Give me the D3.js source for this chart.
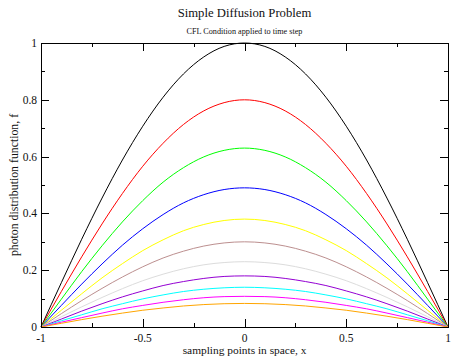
<!DOCTYPE html>
<meta charset="utf-8">
<style>
body { margin: 0; background: #fff; }
text { font-family: "Liberation Serif", "DejaVu Serif", serif; fill: #111; }
</style>
<body>
<script src="https://d3js.org/d3.v7.min.js"></script>
<script>
var width = 451, height = 362;
var margin = {left: 41, right: 3, top: 43, bottom: 35};

// sampling points
var xs = [-1, -0.9, -0.8, -0.7, -0.6, -0.5, -0.4, -0.3, -0.2, -0.1, 0,
          0.1, 0.2, 0.3, 0.4, 0.5, 0.6, 0.7, 0.8, 0.9, 1];

// one curve per time step
var step0  = [0, .156, .309, .454, .588, .707, .809, .891, .951, .988, 1, .988, .951, .891, .809, .707, .588, .454, .309, .156, 0];
var step1  = [0, .125, .247, .363, .470, .566, .647, .713, .761, .790, .80, .790, .761, .713, .647, .566, .470, .363, .247, .125, 0];
var step2  = [0, .098, .195, .286, .370, .445, .510, .561, .599, .622, .63, .622, .599, .561, .510, .445, .370, .286, .195, .098, 0];
var step3  = [0, .076, .151, .222, .288, .346, .396, .437, .466, .484, .49, .484, .466, .437, .396, .346, .288, .222, .151, .076, 0];
var step4  = [0, .059, .117, .173, .223, .269, .307, .339, .361, .375, .38, .375, .361, .339, .307, .269, .223, .173, .117, .059, 0];
var step5  = [0, .047, .093, .136, .176, .212, .243, .267, .285, .296, .30, .296, .285, .267, .243, .212, .176, .136, .093, .047, 0];
var step6  = [0, .036, .071, .104, .135, .163, .186, .205, .219, .227, .23, .227, .219, .205, .186, .163, .135, .104, .071, .036, 0];
var step7  = [0, .028, .056, .082, .106, .127, .146, .160, .171, .178, .18, .178, .171, .160, .146, .127, .106, .082, .056, .028, 0];
var step8  = [0, .022, .043, .064, .082, .099, .113, .125, .133, .138, .14, .138, .133, .125, .113, .099, .082, .064, .043, .022, 0];
var step9  = [0, .017, .033, .049, .064, .076, .087, .096, .103, .107, .108, .107, .103, .096, .087, .076, .064, .049, .033, .017, 0];
var step10 = [0, .013, .026, .038, .049, .059, .067, .074, .079, .082, .083, .082, .079, .074, .067, .059, .049, .038, .026, .013, 0];

var series = [step0, step1, step2, step3, step4, step5, step6, step7, step8, step9, step10];
var colors = ["#000000", "#ff0000", "#00ff00", "#0000ff", "#ffff00", "#bc8f8f",
              "#dcdcdc", "#9400d3", "#00ffff", "#ff00ff", "#ffa500"];

var xTicks = [-1, -0.5, 0, 0.5, 1];
var xMinor = [-0.75, -0.25, 0.25, 0.75];
var yTicks = [0, 0.2, 0.4, 0.6, 0.8, 1];
var yMinor = [0.1, 0.3, 0.5, 0.7, 0.9];

var svg = d3.select("body").append("svg")
    .attr("width", width).attr("height", height);

var x = d3.scaleLinear().domain([-1, 1]).range([margin.left, width - margin.right]);
var y = d3.scaleLinear().domain([0, 1]).range([height - margin.bottom, margin.top]);

var line = d3.line()
    .x(function(d, i) { return x(xs[i]); })
    .y(function(d) { return y(d); })
    .curve(d3.curveMonotoneX);

// curves
svg.append("g").selectAll("path")
    .data(series)
  .enter().append("path")
    .attr("d", line)
    .attr("fill", "none")
    .attr("stroke", function(d, i) { return colors[i]; })
    .attr("stroke-width", 1);

// frame
svg.append("rect")
    .attr("x", x(-1) + 0.5).attr("y", y(1) + 0.5)
    .attr("width", x(1) - x(-1)).attr("height", y(0) - y(1))
    .attr("fill", "none").attr("stroke", "#000");

// ticks, drawn inward on every side
function tickPath(v, len, horiz) {
  var g = svg.append("g").attr("stroke", "#000");
  v.forEach(function(t) {
    if (horiz) {
      var px = Math.round(x(t)) + 0.5;
      g.append("line").attr("x1", px).attr("x2", px).attr("y1", y(0)).attr("y2", y(0) - len);
      g.append("line").attr("x1", px).attr("x2", px).attr("y1", y(1)).attr("y2", y(1) + len);
    } else {
      var py = Math.round(y(t)) + 0.5;
      g.append("line").attr("y1", py).attr("y2", py).attr("x1", x(-1)).attr("x2", x(-1) + len);
      g.append("line").attr("y1", py).attr("y2", py).attr("x1", x(1)).attr("x2", x(1) - len);
    }
  });
}
tickPath(xTicks, 8, true);
tickPath(xMinor, 4, true);
tickPath(yTicks, 8, false);
tickPath(yMinor, 4, false);

// tick labels
svg.append("g").selectAll("text").data(xTicks).enter().append("text")
    .attr("x", function(d) { return x(d); })
    .attr("y", y(0) + 15)
    .attr("text-anchor", "middle")
    .style("font-size", "11.5px")
    .text(function(d) { return String(d); });

svg.append("g").selectAll("text").data(yTicks).enter().append("text")
    .attr("x", x(-1) - 4)
    .attr("y", function(d) { return y(d) + 4; })
    .attr("text-anchor", "end")
    .style("font-size", "11.5px")
    .text(function(d) { return String(d); });

// titles
svg.append("text")
    .attr("x", (x(-1) + x(1)) / 2).attr("y", 17)
    .attr("text-anchor", "middle")
    .style("font-size", "12.7px")
    .text("Simple Diffusion Problem");

svg.append("text")
    .attr("x", (x(-1) + x(1)) / 2).attr("y", 34)
    .attr("text-anchor", "middle")
    .style("font-size", "8.2px")
    .text("CFL Condition applied to time step");

svg.append("text")
    .attr("x", (x(-1) + x(1)) / 2).attr("y", 354)
    .attr("text-anchor", "middle")
    .style("font-size", "11.4px")
    .text("sampling points in space, x");

svg.append("text")
    .attr("transform", "translate(18," + (y(0) + y(1)) / 2 + ") rotate(-90)")
    .attr("text-anchor", "middle")
    .style("font-size", "11.8px")
    .text("photon distribution function, f");
</script>
